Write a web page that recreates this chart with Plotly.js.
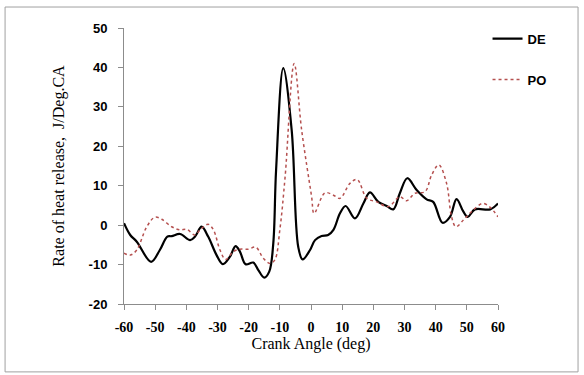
<!DOCTYPE html>
<html>
<head>
<meta charset="utf-8">
<script src="https://cdn.plot.ly/plotly-3.0.1.min.js"></script>
<style>html,body{margin:0;padding:0;background:#fff}#chart{width:584px;height:375px}</style>
</head>
<body>
<div id="chart"></div>
<script>
// Crank angle (deg) and rate of heat release (J/Deg.CA)
const deAngle = [-60,-58,-55.9,-51.3,-48.5,-46.1,-44.7,-42,-38.8,-37.2,-35.1,-33,-30.3,-28.3,-26,-24.2,-22.8,-21,-18.5,-16.9,-15,-13.4,-12.1,-11.2,-8.9,-6.2,-4.1,-2.7,-0.3,1.3,3.4,5.5,7.2,9.3,11.1,14.1,16.8,18.9,21.6,24.3,26.4,28.5,30.9,33.9,37.1,39.2,42.2,44.6,46.7,48.9,50.3,52.6,57.5,60];
const deRate  = [0.5,-2.5,-4.2,-9.3,-6.3,-2.9,-2.8,-2.25,-3.8,-2.9,-0.4,-2.9,-7.6,-9.9,-8,-5.3,-6.7,-9.9,-9.5,-11.4,-13.3,-11.8,-4.6,14,39.8,24.1,-5.5,-8.7,-6.3,-3.8,-2.75,-2.5,-1.2,3.0,4.85,1.7,5.5,8.3,5.9,4.85,4.0,8.1,11.9,8.9,6.55,5.9,0.6,2.1,6.6,3.4,2.1,4.0,4.0,5.5];
const poAngle = [-60,-58,-55.9,-52.7,-50.1,-47.9,-44.7,-42,-39.9,-37.2,-35.6,-33,-31.3,-29.2,-27.4,-24.9,-22.8,-20.1,-17.7,-15.3,-13.2,-11.6,-10,-8.3,-5.4,-3,0.2,1.0,4.5,7.2,9.3,12.5,14.8,17.9,21.1,24.8,28.5,30.7,33.4,36.6,38.7,41,43.5,45.1,46.5,48.9,51.5,55.1,57.5,60];
const poRate  = [-7.1,-7.6,-6.3,-0.4,2.0,1.5,-0.4,-1.2,-1.05,-2.5,-1.2,0.2,-1.2,-6.3,-8.7,-6.7,-6.1,-6.1,-5.6,-8.4,-9.7,-8.8,-1.2,12.3,41,24.1,7.2,3.0,8.2,7.6,6.8,10.6,11.6,6.8,5.9,4.7,7.2,6.2,8.1,8.5,12.7,15.3,10.6,2.1,-0.4,1.3,3.4,5.5,4.5,2.1];
const xTicks = [-60,-50,-40,-30,-20,-10,0,10,20,30,40,50,60];
const yTicks = [-20,-10,0,10,20,30,40,50];

const traces = [
  {x: deAngle, y: deRate, name: 'DE', mode: 'lines', legendgroup: 'a',
   line: {color: '#000000', width: 2.2, shape: 'spline', smoothing: 1}},
  {x: poAngle, y: poRate, name: 'PO', mode: 'lines', legendgroup: 'b',
   line: {color: '#b5504f', width: 1.5, dash: 'dot', shape: 'spline', smoothing: 1}}
];

const layout = {
  width: 584, height: 375,
  margin: {l: 124, r: 86, t: 28, b: 71},
  paper_bgcolor: '#ffffff', plot_bgcolor: '#ffffff',
  showlegend: true,
  legend: {x: 0.972, y: 1.016, xanchor: 'left', yanchor: 'top', bgcolor: 'rgba(0,0,0,0)',
           tracegroupgap: 21, traceorder: 'grouped',
           font: {family: 'Liberation Sans, Arial, sans-serif', size: 13, color: '#000', weight: 'bold'}},
  xaxis: {range: [-60, 60], tickvals: xTicks, ticktext: xTicks.map(String),
          showgrid: false, zeroline: false, showline: true, linecolor: '#8c8c8c', linewidth: 1,
          ticks: 'outside', ticklen: 5, tickcolor: '#8c8c8c', ticklabelstandoff: 5,
          tickfont: {family: 'Liberation Serif, Times New Roman, serif', size: 14, color: '#000', weight: 'bold'},
          title: {text: 'Crank Angle (deg)', standoff: 2,
                  font: {family: 'Liberation Serif, Times New Roman, serif', size: 16, color: '#000'}}},
  yaxis: {range: [-20, 50], tickvals: yTicks, ticktext: yTicks.map(String),
          showgrid: false, zeroline: false, showline: true, linecolor: '#8c8c8c', linewidth: 1,
          ticks: 'outside', ticklen: 5, tickcolor: '#8c8c8c', ticklabelstandoff: 8,
          tickfont: {family: 'Liberation Sans, Arial, sans-serif', size: 13, color: '#000', weight: 'bold'},
          title: {text: 'Rate of heat release,  J/Deg.CA', standoff: 20,
                  font: {family: 'Liberation Serif, Times New Roman, serif', size: 16, color: '#000'}}},
  shapes: [{type: 'rect', xref: 'paper', yref: 'paper', x0: -0.318, x1: 1.214, y0: -0.246, y1: 1.076,
            line: {color: '#a0a0a0', width: 1}, fillcolor: 'rgba(0,0,0,0)', layer: 'below'}]
};

Plotly.newPlot('chart', traces, layout, {displayModeBar: false, staticPlot: true});
</script>
</body>
</html>
